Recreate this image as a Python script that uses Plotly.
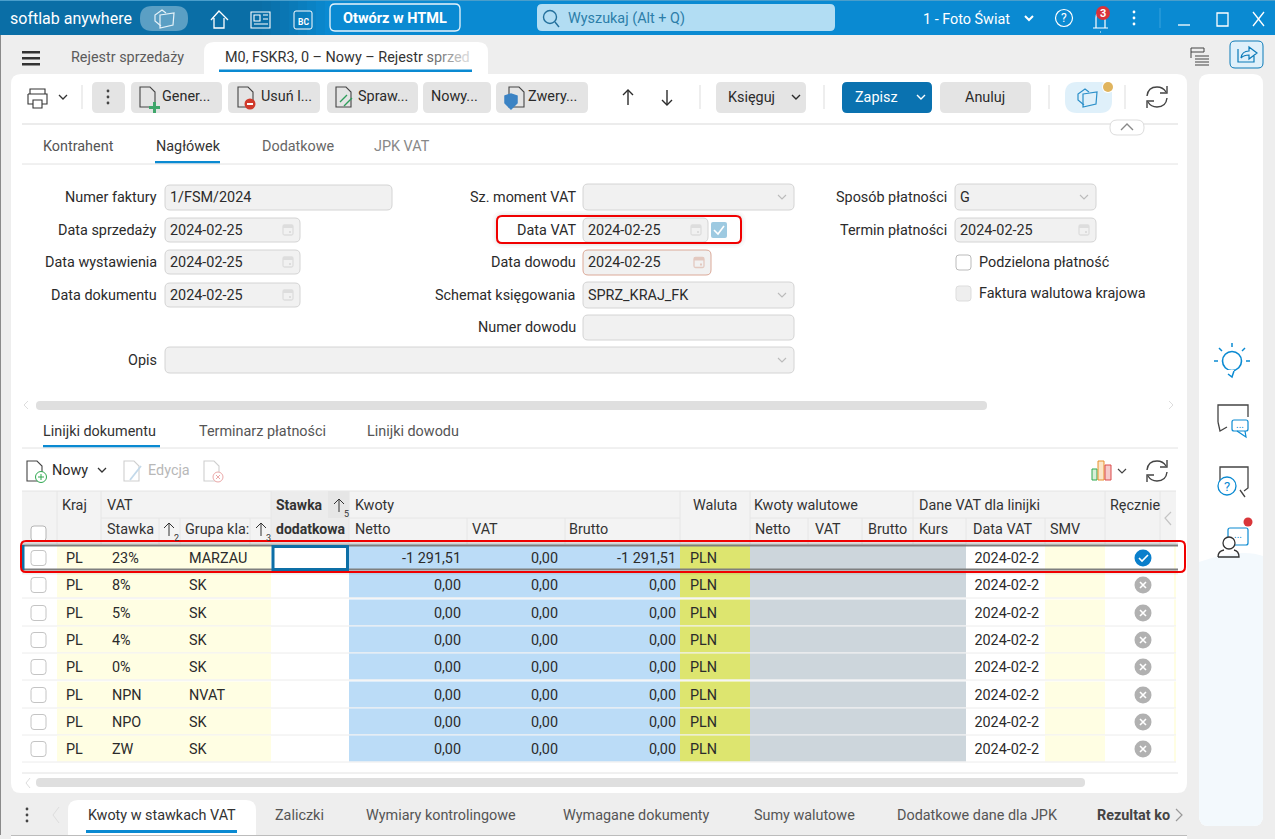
import plotly.graph_objects as go

# table data
kraj = ["PL"] * 8
stawka = ["23%", "8%", "5%", "4%", "0%", "NPN", "NPO", "ZW"]
grupa = ["MARZAU", "SK", "SK", "SK", "SK", "NVAT", "SK", "SK"]
netto = ["-1 291,51", "0,00", "0,00", "0,00", "0,00", "0,00", "0,00", "0,00"]
vat = ["0,00"] * 8
brutto = ["-1 291,51", "0,00", "0,00", "0,00", "0,00", "0,00", "0,00", "0,00"]
waluta = ["PLN"] * 8
data_vat = ["2024-02-2"] * 8
recznie = [True, False, False, False, False, False, False, False]

# form texts
left_labels = ["Numer faktury", "Data sprzedaży", "Data wystawienia", "Data dokumentu"]
left_values = ["1/FSM/2024", "2024-02-25", "2024-02-25", "2024-02-25"]
mid_labels = ["Sz. moment VAT", "Data VAT", "Data dowodu", "Schemat księgowania", "Numer dowodu"]
mid_values = ["", "2024-02-25", "2024-02-25", "SPRZ_KRAJ_FK", ""]
toolbar_buttons = [("Gener...", 131, 222, 162), ("Usuń l...", 228, 320, 261), ("Spraw...", 327, 418, 358),
                   ("Nowy...", 423, 491, 431), ("Zwery...", 496, 588, 528)]
bottom_tabs = [("Zaliczki", 275), ("Wymiary kontrolingowe", 366), ("Wymagane dokumenty", 563),
               ("Sumy walutowe", 754), ("Dodatkowe dane dla JPK", 897)]

# layout
row_y = [558, 585, 613, 640, 667, 695, 722, 749]

FONT = "Roboto"
INK = "#2b2b2b"
BLUE = "#0a8ad2"
DARK = "#0a6ea6"
SIZE = 14.4
shapes = []
notes = []


def rrect(x0, y0, x1, y1, r=5, fill="#ffffff", line=None, lw=1, layer="below"):
    p = (f"M{x0+r},{y0} L{x1-r},{y0} Q{x1},{y0} {x1},{y0+r} L{x1},{y1-r} Q{x1},{y1} {x1-r},{y1} "
         f"L{x0+r},{y1} Q{x0},{y1} {x0},{y1-r} L{x0},{y0+r} Q{x0},{y0} {x0+r},{y0} Z")
    shapes.append(dict(type="path", path=p, fillcolor=fill, layer=layer,
                       line=dict(color=line or "rgba(0,0,0,0)", width=lw if line else 0)))


def rect(x0, y0, x1, y1, fill):
    shapes.append(dict(type="rect", x0=x0, y0=y0, x1=x1, y1=y1, fillcolor=fill, layer="below", line=dict(width=0)))


def line(x0, y0, x1, y1, color="#e2e2e2", w=1, layer="below"):
    shapes.append(dict(type="line", x0=x0, y0=y0, x1=x1, y1=y1, layer=layer, line=dict(color=color, width=w)))


def stroke(p, color=INK, w=1.3, layer="below"):
    shapes.append(dict(type="path", path=p, layer=layer, line=dict(color=color, width=w)))


def circle(cx, cy, r, fill="rgba(0,0,0,0)", color=None, w=1.3, layer="below"):
    shapes.append(dict(type="circle", x0=cx-r, y0=cy-r, x1=cx+r, y1=cy+r, fillcolor=fill, layer=layer,
                       line=dict(color=color or "rgba(0,0,0,0)", width=w if color else 0)))


def text(x, y, s, size=SIZE, color=INK, anchor="left", bold=False):
    if bold:
        s = f"<b>{s}</b>"
    # annotations carry a small inner padding, take it back
    shift = {"left": -2, "right": 2, "center": 0}[anchor]
    notes.append(dict(x=x, y=y, text=s, showarrow=False, xanchor=anchor, yanchor="middle", xref="x", yref="y",
                      xshift=shift, font=dict(family=FONT, size=size, color=color)))


def chevron(cx, cy, color=INK, s=4, w=1.4, up=False):
    d = -s/2 if up else s/2
    stroke(f"M{cx-s},{cy-d} L{cx},{cy+d} L{cx+s},{cy-d}", color, w)


def dots(cx, cy, color=INK, gap=6):
    for k in (-gap, 0, gap):
        circle(cx, cy+k, 1.4, fill=color)


def refresh(cx, cy, color="#444444"):
    stroke(f"M{cx-10},{cy-1} Q{cx-9},{cy-10} {cx},{cy-10} Q{cx+6},{cy-10} {cx+9},{cy-5}", color, 1.4)
    stroke(f"M{cx+10},{cy+1} Q{cx+9},{cy+10} {cx},{cy+10} Q{cx-6},{cy+10} {cx-9},{cy+5}", color, 1.4)
    stroke(f"M{cx+10},{cy-11} L{cx+10},{cy-4} L{cx+3},{cy-4}", color, 1.4)
    stroke(f"M{cx-10},{cy+11} L{cx-10},{cy+4} L{cx-3},{cy+4}", color, 1.4)


def cubes(cx, cy, color):
    stroke(f"M{cx-4},{cy+7} L{cx-10},{cy+2} L{cx-10},{cy-4} L{cx-3},{cy-9} L{cx+1},{cy-6}", color, 1.2)
    stroke(f"M{cx-5},{cy-4} L{cx+9},{cy-6} L{cx+8},{cy+6} L{cx-5},{cy+9} Z", color, 1.2)


def doc(x, y, color="#444444", w=1.1):
    stroke(f"M{x},{y} L{x+10},{y} L{x+15},{y+5} L{x+15},{y+20} L{x},{y+20} Z", color, w)


def arrow(cx, y0, y1, color=INK, w=1.4):
    d = 5 if y1 > y0 else -5
    line(cx, y0, cx, y1, color, w)
    stroke(f"M{cx-5},{y1-d} L{cx},{y1} L{cx+5},{y1-d}", color, w)


# window background
rect(0, 0, 1275, 839, "#eeeeee")
line(0.5, 35, 0.5, 835, "#8a8a8a", 1)

# title bar
rect(0, 0, 1275, 35, BLUE)
rect(0, 0, 262, 35, DARK)
for i, c in enumerate(["#0a70a9", "#0a73ae", "#0a76b3", "#0a7ab8", "#0a7ebe", "#0a82c4", "#0a86cb"]):
    rect(262 + i*9, 0, 271 + i*9, 35, c)
rect(0, 0, 1275, 1, "#4a9ecb")
text(10, 18, "softlab anywhere", 16, "#ffffff")
rrect(140, 6, 188, 31, 12, "#5b9fc4")
cubes(165, 19, "#e6f2f8")
stroke("M211,20 L219,11 L228,20 M214,18 L214,28 L224,28 L224,18", "#ffffff", 1.3)
stroke("M251,12 L270,12 L270,28 L251,28 Z M254,15 L260,15 L260,21 L254,21 Z M263,15 L268,15 M263,19 L268,19 M254,24 L268,24", "#ffffff", 1.1)
rrect(294, 11, 312, 29, 2, "rgba(0,0,0,0)", "#ffffff", 1)
text(303, 22, "BC", 8.5, "#ffffff", "center", True)
rrect(330, 4, 460, 31, 5, "rgba(0,0,0,0)", "#e8f4fb", 1.3)
text(395, 18, "Otwórz w HTML", 14.5, "#ffffff", "center", True)
rrect(537, 4, 835, 31, 5, "#b2ddf3")
circle(550, 17, 6.5, color="#23709c", w=1.4)
line(555, 22, 559, 27, "#23709c", 1.4)
text(568, 18, "Wyszukaj (Alt + Q)", SIZE, "#2c7ea9")
text(923, 19, "1 - Foto Świat", SIZE, "#ffffff")
chevron(1029, 18, "#ffffff", 4, 2)
circle(1064, 18, 8.5, color="#ffffff", w=1.2)
text(1064, 18, "?", 12, "#ffffff", "center")
stroke("M1096,28 L1096,18 Q1096,12 1100,12 Q1105,12 1105,18 L1105,28 M1093,28 L1108,28 M1100,32 L1101,32", "#ffffff", 1.2)
circle(1103, 13, 7, fill="#d9333a")
text(1103, 13, "3", 11, "#ffffff", "center", True)
dots(1134, 18, "#ffffff", 6)
line(1160, 8, 1160, 28, "#3aa3dc", 1)
line(1178, 25, 1190, 25, "#ffffff", 1.3)
shapes.append(dict(type="rect", x0=1217, y0=13, x1=1228, y1=26, layer="below", line=dict(color="#ffffff", width=1.3)))
stroke("M1253,12 L1264,26 M1264,12 L1253,26", "#ffffff", 1.3)

# document tabs
rect(22, 51, 40, 53.5, "#333333")
rect(22, 57, 40, 59.5, "#333333")
rect(22, 63, 40, 65.5, "#333333")
text(71, 57, "Rejestr sprzedaży", SIZE, "#5b5b5b")
rrect(204, 42, 488, 90, 10, "#ffffff")
fade = "".join(f"<span style='color:{c}'>{ch}</span>" for ch, c in zip(
    "sprzed", ["#666666", "#777777", "#8a8a8a", "#a0a0a0", "#bbbbbb", "#d6d6d6"]))
text(225, 57, "M0, FSKR3, 0 – Nowy – Rejestr " + fade, SIZE, "#333333")
rect(219, 69.5, 472, 72, "#0a8ad2")
stroke("M1191,48 L1191,58 M1191,48 L1204,48 L1204,52 L1191,52 M1195,56 L1209,56 M1195,59 L1209,59 M1195,62 L1209,62 M1195,65 L1209,65", "#444444", 1)
rrect(1230, 41, 1263, 68, 5, "#dff0fa", "#0a7ab8", 1)
stroke("M1238,49 L1238,62 L1254,62 L1254,56 M1241,58 Q1242,51 1249,51 L1249,47 L1257,53 L1249,59 L1249,55 Q1244,55 1241,58", "#0a7ab8", 1.2)

# main panels
rrect(11, 74, 1187, 793, 10, "#ffffff")
rrect(1199, 74, 1263, 826, 10, "#ffffff")
shapes.append(dict(type="path", layer="below", line=dict(width=0), fillcolor="#f3f9fd",
                   path="M1199,562 Q1240,548 1263,556 L1263,816 Q1263,826 1253,826 L1209,826 Q1199,826 1199,816 Z"))

# top toolbar
stroke("M30,94 L30,89 L45,89 L45,94 M28,94 L47,94 L47,104 L42,104 M33,104 L28,104 L28,94 M33,100 L42,100 L42,108 L33,108 Z", "#333333", 1.1)
chevron(63, 97, "#333333", 4, 1.3)
line(82, 85, 82, 109, "#dddddd")
rrect(92, 82, 125, 113, 5, "#e4e4e4")
dots(108, 97, "#444444", 6)
for label, x0, x1, tx in toolbar_buttons:
    rrect(x0, 82, x1, 113, 5, "#e4e4e4")
    text(tx, 96.5, label, SIZE, INK)
doc(140, 87)
rect(153, 102, 156, 113, "#3fa66b")
rect(149, 106, 160, 109, "#3fa66b")
doc(238, 87)
circle(250, 104, 5.5, fill="#d03a2b")
rect(247, 103, 253, 105, "#ffffff")
doc(336, 87)
stroke("M340,102 L347,95 M344,106 L352,98", "#2e9e5b", 1.4)
doc(509, 87)
stroke("M505,96 L511,94 L517,96 L517,103 L511,109 L505,103 Z", "#3b83c4", 1.5)
shapes[-1]["fillcolor"] = "#3b83c4"
arrow(628, 105, 90)
arrow(667, 90, 105)
line(700, 85, 700, 109, "#dddddd")
rrect(716, 82, 806, 113, 5, "#e4e4e4")
text(728, 97, "Księguj", SIZE, INK)
chevron(796, 97, INK, 4, 1.4)
line(824, 85, 824, 109, "#dddddd")
rrect(842, 82, 932, 113, 5, "#0a72b0")
text(855, 97, "Zapisz", SIZE, "#ffffff")
chevron(921, 97, "#ffffff", 4, 1.4)
rrect(940, 82, 1031, 113, 5, "#e4e4e4")
text(985, 97, "Anuluj", SIZE, INK, "center")
line(1049, 85, 1049, 109, "#dddddd")
rrect(1065, 82, 1112, 113, 12, "#dff0fa")
cubes(1088, 98, "#2b8fc9")
circle(1108, 87, 6, fill="#ffffff")
circle(1108, 87, 5, fill="#e0b45e")
line(1125, 85, 1125, 109, "#dddddd")
refresh(1157, 97)

line(22, 124, 1178, 124, "#e6e6e6", 1.5)
rrect(1110, 120, 1144, 135, 7, "#ffffff", "#dddddd", 1)
chevron(1127, 127, "#888888", 6, 1.4, up=True)

# header tabs
text(43, 146, "Kontrahent", SIZE, "#555555")
text(156, 146, "Nagłówek", SIZE, "#333333")
rect(155, 161, 220, 163.5, "#0a8ad2")
text(262, 146, "Dodatkowe", SIZE, "#666666")
text(374, 146, "JPK VAT", SIZE, "#888888")
line(22, 164, 1178, 164, "#e2e2e2")


def field(x0, y0, x1, y1, value="", cal=False, combo=False, border="#d4d4d4"):
    rrect(x0, y0, x1, y1, 5, "#f1f1f1", border, 1)
    if value:
        text(x0+5, (y0+y1)/2, value, SIZE, INK)
    if cal:
        cx = x1-12
        cy = (y0+y1)/2
        col = "#e3c9c0" if border != "#d4d4d4" else "#dddddd"
        rrect(cx-5, cy-5, cx+5, cy+5, 1.5, "rgba(0,0,0,0)", col, 1.3)
        rect(cx-5, cy-5, cx+5, cy-2, col)
        rect(cx+1, cy+1, cx+3, cy+3, col)
    if combo:
        chevron(x1-12, (y0+y1)/2, "#bbbbbb", 4, 1.1)


# form
left_rows = [197, 230, 262, 295]
for lab, val, y in zip(left_labels, left_values, left_rows):
    text(157, y, lab, SIZE, INK, "right")
    if lab == "Numer faktury":
        field(165, 185, 392, 210, val)
    else:
        field(165, y-12, 300, y+12, val, cal=True)

mid_rows = [197, 230, 262, 295, 327]
for lab, val, y in zip(mid_labels, mid_values, mid_rows):
    text(576, y, lab, SIZE, INK, "right")
field(583, 184, 794, 210, "", combo=True)
# soft shadow around the highlighted date
for k, c in [(5, "rgba(0,0,0,0.02)"), (3, "rgba(0,0,0,0.03)"), (1.5, "rgba(0,0,0,0.04)")]:
    rrect(497-k, 216-k, 741+k, 243+k, 6+k, c)
rrect(497, 216, 741, 243, 5, "#ffffff")
field(583, 218, 708, 242, mid_values[1], cal=True)
rrect(711, 222, 727, 238, 2, "#9ecae1")
stroke("M714,230 L718,234 L724,226", "#ffffff", 1.6)
field(583, 250, 711, 275, mid_values[2], cal=True, border="#dba998")
field(583, 282, 794, 308, mid_values[3], combo=True)
field(583, 315, 794, 340)

text(947, 197, "Sposób płatności", SIZE, INK, "right")
field(955, 184, 1096, 210, "G", combo=True)
text(947, 230, "Termin płatności", SIZE, INK, "right")
field(955, 218, 1096, 242, "2024-02-25", cal=True)
rrect(956, 255, 971, 270, 3, "#ffffff", "#bbbbbb", 1)
text(979, 262, "Podzielona płatność", SIZE, INK)
rrect(956, 286, 971, 301, 3, "#eeeeee", "#dddddd", 1)
text(979, 293, "Faktura walutowa krajowa", SIZE, INK)
text(157, 360, "Opis", SIZE, INK, "right")
field(165, 347, 794, 373, "", combo=True)

# form scrollbar
stroke("M28,401 L24,405 L28,409", "#dddddd", 1)
rrect(36, 401, 987, 410, 4, "#dfdfdf")
stroke("M1169,401 L1173,405 L1169,409", "#dddddd", 1)

# lower tabs
text(43, 431, "Linijki dokumentu", SIZE, "#333333")
rect(43, 445, 160, 447.5, "#0a8ad2")
text(199, 431, "Terminarz płatności", SIZE, "#555555")
text(367, 431, "Linijki dowodu", SIZE, "#555555")
line(22, 448, 1178, 448, "#e2e2e2")

# table toolbar
doc(27, 461, "#444444")
circle(41, 477, 5.5, fill="#ffffff", color="#2ea84f", w=1)
stroke("M38,477 L44,477 M41,474 L41,480", "#2ea84f", 1)
text(52, 470, "Nowy", SIZE, INK)
chevron(102, 470, "#333333", 4, 1.3)
doc(124, 461, "#cfcfcf")
stroke("M130,480 L141,466", "#c3d9ea", 1.8)
text(148, 470, "Edycja", SIZE, "#b8b8b8")
doc(204, 461, "#cfcfcf")
circle(218, 477, 5, fill="#ffffff", color="#eba9a9", w=1)
stroke("M216,475 L220,479 M220,475 L216,479", "#eba9a9", 1)
shapes.append(dict(type="rect", x0=1092, y0=469, x1=1097, y1=480, fillcolor="#d8efd8", layer="below", line=dict(color="#2ea84f", width=1)))
shapes.append(dict(type="rect", x0=1098, y0=461, x1=1104, y1=480, fillcolor="#fbe6c8", layer="below", line=dict(color="#e8902f", width=1)))
shapes.append(dict(type="rect", x0=1105, y0=465, x1=1111, y1=480, fillcolor="#f6c9c9", layer="below", line=dict(color="#dc4a4a", width=1)))
chevron(1122, 471, "#444444", 4, 1.2)
refresh(1157, 471)

# table header
rect(22, 491, 1176, 544, "#f3f3f3")
line(22, 491, 1176, 491, "#e4e4e4")
rect(271, 491, 349, 544, "#ececec")
rect(328, 491, 349, 518, "#e6e6e6")
for xa, ya, yb in [(57, 491, 544), (101, 491, 544), (271, 491, 544), (349, 491, 544), (680, 491, 544), (750, 491, 544),
                   (913, 491, 544), (1105, 491, 544), (1160, 491, 544), (467, 518, 544), (565, 518, 544),
                   (808, 518, 544), (862, 518, 544), (966, 518, 544), (1045, 518, 544), (159, 518, 544),
                   (180, 518, 544), (250, 518, 544)]:
    line(xa, ya, xa, yb, "#e6e6e6")
for xa, xb in [(101, 271), (349, 680), (750, 913), (913, 1105)]:
    line(xa, 518, xb, 518, "#e6e6e6")
rrect(31, 526, 46, 541, 3, "#ffffff", "#b5b5b5", 1)
for label, x in [("Kraj", 62), ("VAT", 107), ("Kwoty", 355), ("Kwoty walutowe", 754), ("Dane VAT dla linijki", 919), ("Ręcznie", 1110)]:
    text(x, 505, label, SIZE, "#333333")
text(715, 505, "Waluta", SIZE, "#333333", "center")
text(276, 505, "Stawka", 14, "#333333", bold=True)
text(276, 529, "dodatkowa", 14, "#333333", bold=True)
for label, x in [("Stawka", 107), ("Grupa kla:", 185), ("Netto", 355), ("VAT", 472), ("Brutto", 569), ("Netto", 755),
                 ("VAT", 815), ("Brutto", 868), ("Kurs", 919), ("Data VAT", 973), ("SMV", 1050)]:
    text(x, 529, label, SIZE, "#333333")
for cx, cy, sub in [(169, 529, "2"), (261, 529, "3"), (339, 505, "5")]:
    arrow(cx, cy+7, cy-6, "#333333", 1)
    text(cx+7, cy+9, sub, 9, "#333333", "center")
stroke("M1171,512 L1165,518 L1171,525", "#c4c4c4", 1.2)

# table body
for i, y in enumerate(row_y):
    y0 = y-13.5
    y1 = y+13.5
    rect(57, y0, 271, y1-1, "#fffee3")
    rect(349, y0, 680, y1-1, "#bbdcf7")
    rect(680, y0, 750, y1-1, "#dde56f")
    rect(750, y0, 966, y1-1, "#cdd6dc")
    rect(1045, y0, 1105, y1-1, "#fffee3")
    rect(1174, y0, 1176, y1-1, "#fffee3")
    line(22, y1-0.5, 1176, y1-0.5, "#ececec")
    rrect(31, y-7.5, 46, y+7.5, 3, "#ffffff", "#c4c4c4", 1)
    if recznie[i]:
        circle(1143, y, 8.5, fill="#0a7fcb")
        stroke(f"M{1139},{y} L{1142},{y+3} L{1148},{y-3}", "#ffffff", 1.6)
    else:
        circle(1143, y, 8.5, fill="#b1b1b1")
        stroke(f"M{1140},{y-3} L{1146},{y+3} M{1146},{y-3} L{1140},{y+3}", "#ffffff", 1.6)

# selected row, with the soft shadow above and below it
for k, c in [(1, "rgba(0,0,0,0.16)"), (2, "rgba(0,0,0,0.10)"), (3, "rgba(0,0,0,0.06)"), (4, "rgba(0,0,0,0.03)")]:
    rect(22, 544.5-k, 1178, 545.5-k, c)
    rect(22, 570+k, 1178, 571+k, c)
rect(22, 544.5, 1178, 546.5, "#7f7f7f")
rect(22, 568.5, 1178, 570.5, "#7f7f7f")
rect(22, 545, 24.5, 570, "#0d6fa6")
shapes.append(dict(type="rect", x0=273, y0=546.5, x1=347.5, y1=569.5, fillcolor="#ffffff", layer="below",
                   line=dict(color="#0d6fa6", width=3)))

# highlight boxes
rrect(497, 216, 741, 243, 5, "rgba(0,0,0,0)", "#f00000", 2, "above")
rrect(21, 541, 1185, 572, 5, "rgba(0,0,0,0)", "#f00000", 2, "above")

# bottom scrollbar and tabs
line(22, 773, 1178, 773, "#e2e2e2")
stroke("M30,778 L26,783 L30,788", "#dddddd", 1)
rrect(36, 778, 1085, 787, 4, "#dfdfdf")
dots(27, 815, "#444444", 6)
stroke("M59,807 L53,815 L59,823", "#dddddd", 1)
rrect(68, 800, 256, 845, 10, "#ffffff")
text(88, 815, "Kwoty w stawkach VAT", SIZE, "#333333")
rect(86, 830, 237, 833, "#0a8ad2")
for label, x in bottom_tabs:
    text(x, 815, label, SIZE, "#555555")
text(1097, 815, "Rezultat ko", SIZE, "#444444", bold=True)
stroke("M1176,809 L1182,815 L1176,821", "#999999", 1.2)
rect(11, 835, 1187, 839, "#ffffff")
line(11, 835.5, 1187, 835.5, "#bcbcbc")

# side rail icons
circle(1232, 361, 9.5, color=BLUE, w=1.6)
rect(1227, 370, 1234, 374, "#ffffff")
stroke("M1228,374 L1232,377 L1234,371", BLUE, 1.5)
for a, b, c, d in [(1218, 361, 1214, 361), (1246, 361, 1250, 361), (1222, 351, 1219, 348), (1242, 351, 1245, 348), (1232, 347, 1232, 343)]:
    line(a, b, c, d, BLUE, 1.5)
stroke("M1218,422 L1218,405 L1248,405 L1248,417 M1218,422 L1220,431 L1227,427", "#444444", 1.3)
rrect(1232, 420, 1248, 431, 2, "#ffffff", BLUE, 1.2)
stroke("M1237,431 L1246,437 L1245,431", BLUE, 1.2)
text(1240, 424, "...", 10, BLUE, "center")
stroke("M1220,482 L1220,467 L1248,467 L1248,488 L1244,491 M1240,490 L1245,497", "#444444", 1.3)
circle(1227, 486, 9, fill="#ffffff", color=BLUE, w=1.3)
text(1227, 486, "?", 13, BLUE, "center")
circle(1248, 522, 4.5, fill="#d9363a")
rrect(1228, 528, 1248, 545, 2, "#ffffff", BLUE, 1.2)
text(1238, 534, "...", 10, BLUE, "center")
circle(1229, 543, 6, fill="#ffffff", color="#333333", w=1.3)
stroke("M1218,557 Q1218,551 1224,550 M1234,550 Q1239,551 1239,557 L1218,557", "#333333", 1.3)

fig = go.Figure()

# table columns go through the axes as text traces
text_y = [v + 1 for v in row_y]
columns = [(kraj, 66, "middle right"), (stawka, 112, "middle right"), (grupa, 189, "middle right"),
           (netto, 461, "middle left"), (vat, 558, "middle left"), (brutto, 676, "middle left"),
           (waluta, 690, "middle right"), (data_vat, 1039, "middle left")]
for values, px, pos in columns:
    fig.add_trace(go.Scatter(x=[px]*len(values), y=text_y, text=values, mode="text", textposition=pos,
                             textfont=dict(family=FONT, size=SIZE, color=INK), hoverinfo="skip", showlegend=False))

fig.update_layout(width=1275, height=839, margin=dict(l=0, r=0, t=0, b=0), paper_bgcolor="#eeeeee",
                  plot_bgcolor="#eeeeee", shapes=shapes, annotations=notes, showlegend=False,
                  xaxis=dict(range=[0, 1275], visible=False, fixedrange=True),
                  yaxis=dict(range=[839, 0], visible=False, fixedrange=True))
fig.write_html("out.html", config=dict(displayModeBar=False),
               post_script="document.body.style.margin='0';document.body.style.overflow='hidden';")
